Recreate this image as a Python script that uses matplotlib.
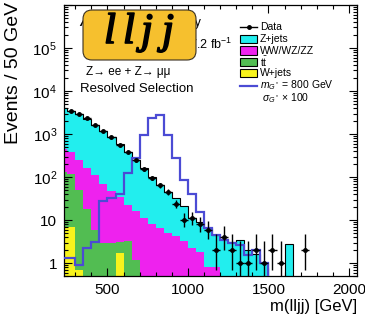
import numpy as np
import matplotlib
matplotlib.use("Agg")
import matplotlib.pyplot as plt
import matplotlib.patheffects as pe
from matplotlib.patches import Rectangle, FancyBboxPatch
from matplotlib.lines import Line2D
from matplotlib.ticker import MultipleLocator, LogLocator, FuncFormatter, NullFormatter

plt.rcParams['font.family'] = ['Liberation Sans', 'DejaVu Sans']
plt.rcParams['mathtext.fontset'] = 'custom'
plt.rcParams['mathtext.rm'] = 'Liberation Sans'
plt.rcParams['mathtext.it'] = 'Liberation Sans:italic'
plt.rcParams['mathtext.bf'] = 'Liberation Sans:bold'

# 50 GeV bins in m(lljj)
bin_edges = np.arange(200, 2051, 50)

w_jets = [7, 7, 0.7, 0, 0, 0, 0, 1.7, 0, 0, 0, 0, 0, 0, 0, 0, 0, 0, 0,
          0, 0, 0, 0, 0, 0, 0, 0, 0, 0, 0, 0, 0, 0, 0, 0, 0, 0]
ttbar = [123, 113, 49, 18, 6, 3, 3, 1.4, 3.2, 1.2, 0, 0, 0, 0, 0, 0, 0, 0, 0,
         0, 0, 0, 0, 0, 0, 0, 0, 0, 0, 0, 0, 0, 0, 0, 0, 0, 0]
diboson = [320, 260, 200, 142, 104, 67, 45, 31, 19, 15, 11, 8.3, 6.5, 5.0, 4.3, 3.2, 2.2, 1.8, 0.8,
           0.8, 0, 0, 0, 0, 0, 0, 0, 0, 0, 0, 0, 0, 0, 0, 0, 0, 0]
z_jets = [3500, 3090, 2700, 2080, 1550, 1130, 800, 540, 358, 234, 147, 92, 60, 41, 28, 18, 8.8, 7.2, 5.7,
          3.7, 3.6, 3.1, 3.4, 2.0, 1.6, 1.0, 0, 0, 2.8, 0, 0, 0, 0, 0, 0, 0, 0]
signal = [1.3, 1.3, 0.9, 2.2, 3.1, 28, 33, 40, 125, 275, 950, 2400, 2700, 950, 270, 85, 40, 15, 6.5,
          4.5, 3.4, 3.0, 2.6, 1.5, 2.0, 1.0, 0, 0, 0, 0, 0, 0, 0, 0, 0, 0, 0]
data = [0, 3500, 2900, 2300, 1650, 1180, 870, 560, 390, 245, 150, 95, 64, 44, 24, 10, 11, 8, 6,
        2, 4, 2, 1, 1, 2, 1, 2, 1, 0, 0, 2, 0, 0, 0, 0, 0, 0]

c_cyan = '#22eeee'
c_mag = '#ee22ee'
c_green = '#52bd52'
c_yellow = '#f7f31c'
c_sig = '#4b4bd4'

W, H = 365, 323
fig = plt.figure(figsize=(W / 100, H / 100), dpi=100)
ax = fig.add_axes([64 / W, (H - 276) / H, 293 / W, 271 / H])

floor = 1e-3
c0 = np.array(w_jets, float)
c1 = c0 + np.array(ttbar, float)
c2 = c1 + np.array(diboson, float)
c3 = c2 + np.array(z_jets, float)

for top, col in [(c3, c_cyan), (c2, c_mag), (c1, c_green), (c0, c_yellow)]:
    ax.stairs(np.maximum(top, floor), bin_edges, baseline=floor, fill=True,
              color=col, lw=0, zorder=1)
ax.stairs(np.maximum(c3, floor), bin_edges, baseline=None, color='black', lw=0.8, zorder=2)
ax.stairs(np.maximum(np.array(signal, float), floor), bin_edges, baseline=None,
          color=c_sig, lw=1.6, zorder=3)

d = np.array(data, float)
centers = 0.5 * (bin_edges[:-1] + bin_edges[1:])
m = d > 0
err_lo = d[m] - np.maximum(d[m] - np.sqrt(d[m] - 0.25), 1e-3)
err_hi = 1 + np.sqrt(d[m] + 0.75)
ax.errorbar(centers[m], d[m], yerr=[err_lo, err_hi], xerr=25, fmt='o', ms=2.5,
            color='black', ecolor='black', elinewidth=1.0, capsize=0, zorder=4)

ax.set_yscale('log')
ax.set_xlim(230, 2050)
ax.set_ylim(0.5, 1e6)
ax.xaxis.set_major_locator(MultipleLocator(500))
ax.xaxis.set_minor_locator(MultipleLocator(100))
ax.yaxis.set_major_locator(LogLocator(base=10))
ax.yaxis.set_minor_locator(LogLocator(base=10, subs=np.arange(2, 10)))
ax.yaxis.set_minor_formatter(NullFormatter())


def ylab(v, pos):
    e = int(round(np.log10(v)))
    if e == 0:
        return '1'
    if e == 1:
        return '10'
    if e >= 6:
        return ''
    return r'$10^{%d}$' % e


ax.yaxis.set_major_formatter(FuncFormatter(ylab))
ax.tick_params(which='both', direction='in', top=True, right=True, width=0.8)
ax.tick_params(which='major', length=6, labelsize=11, pad=5)
ax.tick_params(which='minor', length=3)
for s in ax.spines.values():
    s.set_linewidth(0.9)

T = fig.dpi_scale_trans


def P(x, y):
    return x / 100, (H - y) / 100


# axis titles
fig.text(*P(14, 2), 'Events / 50 GeV', transform=T, rotation=90, ha='center', va='top', fontsize=14)
fig.text(*P(357, 307), 'm(lljj) [GeV]', transform=T, ha='right', va='center', fontsize=12)

# labels in the upper left
fig.text(*P(79, 23), 'ATLAS', transform=T, ha='left', va='center', fontsize=9,
         fontweight='bold', fontstyle='italic')
fig.text(*P(201, 23), 'Preliminary', transform=T, ha='right', va='center', fontsize=9)
fig.text(*P(232, 44), r'$\int L\,dt$ = 7.2 fb$^{-1}$', transform=T, ha='right', va='center', fontsize=9)
fig.text(*P(86, 72), 'Z→ ee + Z→ μμ', transform=T, ha='left', va='center', fontsize=8.5)
fig.text(*P(80, 89), 'Resolved Selection', transform=T, ha='left', va='center', fontsize=9.5)

box = FancyBboxPatch(P(83, 60), 1.13, 0.50, boxstyle='round,pad=0,rounding_size=0.09',
                     transform=T, facecolor='#f6c02e', edgecolor='#3a3020', lw=0.8, zorder=5)
fig.patches.append(box)
for ch, xs in zip('lljj', [110, 129, 147, 168]):
    fig.text(*P(xs, 43), ch, transform=T, ha='center', va='baseline', fontsize=31,
             family='Liberation Serif', fontstyle='italic', zorder=6,
             path_effects=[pe.withStroke(linewidth=1.2, foreground='black')])

# legend
fig.add_artist(Line2D([2.40, 2.57], [(H - 27) / 100] * 2, transform=T, color='black', lw=1))
fig.add_artist(Line2D([2.485], [(H - 27) / 100], transform=T, marker='o', ms=2.5, color='black'))
fig.text(*P(260, 27), 'Data', transform=T, ha='left', va='center', fontsize=7.5)
for (lab, col, yc) in [('Z+jets', c_cyan, 39), ('WW/WZ/ZZ', c_mag, 50.5),
                       (r'$\mathrm{t}\bar{\mathrm{t}}$', c_green, 62), ('W+jets', c_yellow, 73)]:
    fig.patches.append(Rectangle(P(240, yc + 4), 0.17, 0.08, transform=T, facecolor=col,
                                 edgecolor='black', lw=0.8))
    fig.text(*P(260, yc), lab, transform=T, ha='left', va='center', fontsize=7.5)
fig.add_artist(Line2D([2.40, 2.57], [(H - 86) / 100] * 2, transform=T, color=c_sig, lw=1.6))
fig.text(*P(260, 85), r'$m_{G^*}$ = 800 GeV', transform=T, ha='left', va='center', fontsize=7.5)
fig.text(*P(262, 98), r'$\sigma_{G^*}$ × 100', transform=T, ha='left', va='center', fontsize=7.5)

fig.savefig('out.png', dpi=100)
